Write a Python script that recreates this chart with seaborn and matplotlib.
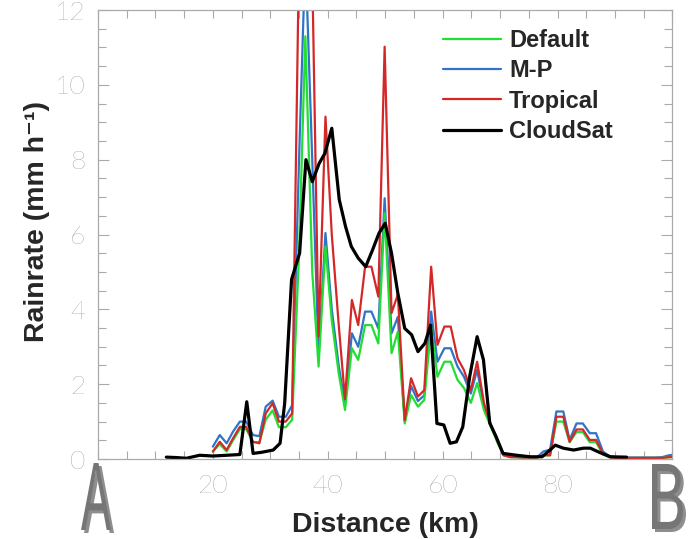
import numpy as np
import pandas as pd
import matplotlib
matplotlib.use('Agg')
import matplotlib.pyplot as plt
import seaborn as sns
from matplotlib.ticker import MultipleLocator
from matplotlib.textpath import TextPath
from matplotlib.patches import PathPatch
from matplotlib.font_manager import FontProperties
from matplotlib.transforms import Affine2D

# distance grid of the model runs (km)
dist_model = [20.0, 21.2, 22.4, 23.5, 24.7, 25.8, 27.0, 28.1, 29.2, 30.4,
              31.5, 32.7, 33.8, 35.0, 36.1, 37.3, 38.4, 39.6, 40.7, 41.9,
              43.0, 44.2, 45.3, 46.5, 47.6, 48.8, 49.9, 51.1, 52.2, 53.4,
              54.5, 55.7, 56.8, 58.0, 59.1, 60.3, 61.4, 62.6, 63.7, 64.9,
              66.0, 67.2, 68.3, 69.5, 70.6, 71.8, 72.9, 74.1, 75.2, 76.4,
              77.5, 78.7, 79.8, 81.0, 82.1, 83.3, 84.4, 85.6, 86.7, 87.9,
              89.0, 90.2, 91.3, 92.5, 93.6, 94.8, 95.9, 97.1, 98.2, 99.4, 100.5]

rain_default = [0.2, 0.4, 0.2, 0.5, 0.8, 0.8, 0.45, 0.45, 1.05, 1.3,
                0.85, 0.85, 1.05, 5.5, 11.3, 5.0, 2.47, 5.68, 3.7, 2.3,
                1.31, 2.96, 2.65, 3.58, 3.58, 3.09, 6.57, 2.83, 3.4, 0.95,
                1.71, 1.4, 1.58, 3.54, 2.2, 2.6, 2.6, 2.11, 1.9, 1.5,
                2.03, 1.3, 0.9, 0.45, 0.1, 0.05, 0.05, 0.04, 0.04, 0.04,
                0.1, 0.1, 1.0, 1.0, 0.45, 0.72, 0.72, 0.45, 0.45, 0.12,
                0.05, 0.03, 0.03, 0.03, 0.03, 0.03, 0.03, 0.03, 0.03, 0.05, 0.05]

rain_mp = [0.33, 0.64, 0.42, 0.73, 1.0, 1.0, 0.64, 0.61, 1.4, 1.56,
           1.13, 1.13, 1.44, 8.0, 13.5, 8.0, 2.8, 6.04, 4.0, 2.5,
           1.45, 3.36, 3.0, 3.94, 3.94, 3.49, 6.97, 3.36, 3.8, 1.0,
           1.95, 1.55, 1.7, 3.94, 2.6, 2.96, 2.96, 2.47, 2.2, 1.75,
           2.38, 1.4, 0.95, 0.5, 0.12, 0.06, 0.05, 0.04, 0.04, 0.04,
           0.2, 0.25, 1.27, 1.27, 0.51, 0.95, 0.95, 0.69, 0.69, 0.2,
           0.08, 0.04, 0.04, 0.04, 0.04, 0.04, 0.04, 0.04, 0.05, 0.1, 0.12]

rain_tropical = [0.2, 0.46, 0.24, 0.55, 0.86, 0.86, 0.46, 0.42, 1.22, 1.49,
                 1.0, 1.0, 1.22, 13.5, 17.0, 13.0, 3.27, 9.15, 6.0, 3.6,
                 1.6, 4.25, 3.58, 5.14, 5.14, 4.34, 11.02, 3.9, 4.4, 1.04,
                 2.16, 1.67, 1.84, 5.14, 3.05, 3.54, 3.54, 2.69, 2.38, 1.84,
                 2.6, 1.49, 0.95, 0.5, 0.1, 0.05, 0.05, 0.04, 0.04, 0.04,
                 0.1, 0.1, 1.13, 1.13, 0.46, 0.79, 0.79, 0.51, 0.51, 0.15,
                 0.05, 0.03, 0.03, 0.03, 0.03, 0.03, 0.03, 0.03, 0.03, 0.05, 0.05]

dist_cloudsat = [11.9, 13.5, 15.4, 17.7, 20.0, 22.4, 24.7, 25.9, 27.0, 28.5,
                 30.5, 31.7, 32.5, 33.7, 35.1, 36.2, 37.3, 38.5, 39.5, 40.7,
                 42.0, 43.1, 44.1, 45.3, 46.6, 47.8, 48.9, 50.0, 51.1, 52.2,
                 53.4, 54.6, 55.7, 56.9, 57.9, 59.0, 60.2, 61.3, 62.4, 63.5,
                 64.7, 66.0, 67.1, 68.2, 69.3, 70.5, 72.9, 75.2, 77.3, 78.4,
                 79.6, 81.0, 82.8, 84.5, 85.7, 87.4, 89.2, 92.0]
rain_cloudsat = [0.05, 0.04, 0.02, 0.1, 0.08, 0.1, 0.12, 1.53, 0.15, 0.18,
                 0.24, 0.42, 1.49, 4.8, 5.5, 8.0, 7.41, 7.9, 8.17, 8.84,
                 6.93, 6.21, 5.68, 5.37, 5.14, 5.59, 6.03, 6.3, 5.5, 4.43,
                 3.49, 3.32, 2.87, 3.09, 3.58, 0.95, 0.91, 0.42, 0.46, 0.86,
                 2.2, 3.27, 2.65, 0.96, 0.6, 0.15, 0.1, 0.06, 0.06, 0.2,
                 0.37, 0.29, 0.24, 0.29, 0.29, 0.17, 0.06, 0.05]

sns.set_theme(style="ticks")
plt.rcParams['font.family'] = ['Liberation Sans', 'DejaVu Sans']

fig = plt.figure(figsize=(6.88, 5.39), dpi=100)
ax = fig.add_axes([0.1424, 0.1484, 0.835, 0.833])

# draw order: blue under green, red, then CloudSat on top
sns.lineplot(x=dist_model, y=rain_mp, color='#2f74c8', lw=1.6, ax=ax, sort=False, label='M-P')
sns.lineplot(x=dist_model, y=rain_default, color='#22dd33', lw=1.6, ax=ax, sort=False, label='Default')
sns.lineplot(x=dist_model, y=rain_tropical, color='#d42828', lw=1.6, ax=ax, sort=False, label='Tropical')
sns.lineplot(x=dist_cloudsat, y=rain_cloudsat, color='black', lw=2.3, ax=ax, sort=False, label='CloudSat')

ax.set_xlim(0, 100)
ax.set_ylim(0, 12)
ax.xaxis.set_major_locator(MultipleLocator(20))
ax.xaxis.set_minor_locator(MultipleLocator(5))
ax.yaxis.set_major_locator(MultipleLocator(2))
ax.yaxis.set_minor_locator(MultipleLocator(0.5))
ax.set_xticks([20, 40, 60, 80])
ax.set_xticklabels(['20', '40', '60', '80'])

for s in ax.spines.values():
    s.set_color('#aaaaaa')
    s.set_linewidth(0.9)
    s.set_visible(True)
ax.tick_params(which='both', direction='in', top=True, right=True, color='#aaaaaa', width=0.8,
               labelcolor='#6e6e6e', labelsize=19)
ax.tick_params(which='major', length=8, pad=9)
ax.tick_params(which='minor', length=6)
ax.tick_params(axis='x', which='major', length=6, pad=11)
for lab in ax.get_xticklabels() + ax.get_yticklabels():
    lab.set_fontfamily(['Lato', 'DejaVu Sans'])
    lab.set_fontweight('light')

ax.set_xlabel('Distance (km)', fontsize=20.5, fontweight='bold')
ax.xaxis.set_label_coords(0.5, -0.118)
ax.set_ylabel('Rainrate (mm h⁻¹)', fontsize=20.5, fontweight='bold')
ax.yaxis.set_label_coords(-0.083, 0.53)

handles, labels = ax.get_legend_handles_labels()
order = [labels.index(n) for n in ['Default', 'M-P', 'Tropical', 'CloudSat']]
leg = ax.legend([handles[i] for i in order], [labels[i] for i in order],
                loc='upper left', bbox_to_anchor=(443 / 688, 1 - 29 / 539),
                bbox_transform=fig.transFigure, frameon=False, borderpad=0,
                borderaxespad=0, handlelength=2.45, handletextpad=0.35, labelspacing=0.31,
                prop={'size': 17, 'weight': 'bold'})

# end-point markers A and B below the axis, condensed letters fitted to a pixel box
fp = FontProperties(family='Liberation Sans')
for lbl, x0, x1, y0, y1 in [('A', 81, 111, 9, 76), ('B', 652, 683, 10, 75)]:
    path = TextPath((0, 0), lbl, size=100, prop=fp)
    ext = path.get_extents()
    sx = (x1 - x0) / ext.width
    sy = (y1 - y0) / ext.height
    for dx, dy, col in [(3, -3, '#8e8e8e'), (0, 0, '#767676')]:
        tr = Affine2D().translate(-ext.x0, -ext.y0).scale(sx, sy).translate(x0 + dx, y0 + dy)
        fig.add_artist(PathPatch(path, transform=tr, facecolor=col, edgecolor='none'))

fig.savefig('out.png', dpi=100)
